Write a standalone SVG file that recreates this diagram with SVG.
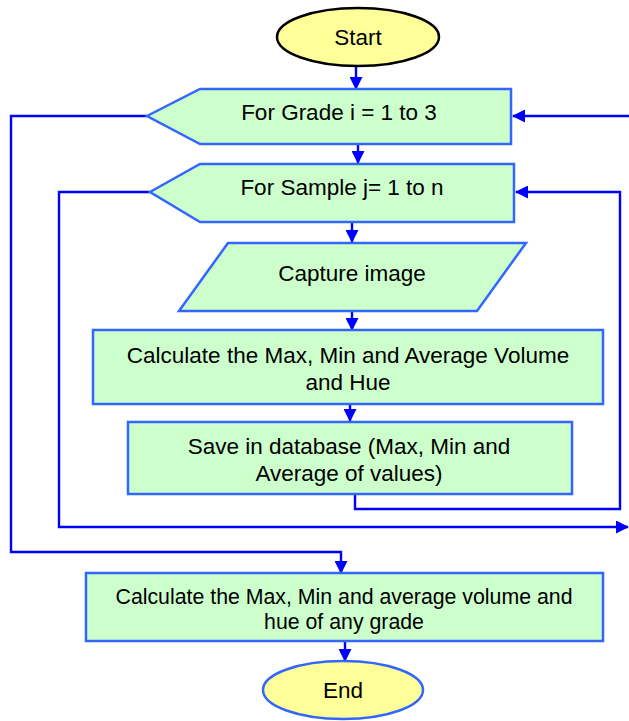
<svg xmlns="http://www.w3.org/2000/svg" width="629" height="721" viewBox="0 0 629 721">
  <defs>
    <marker id="arrow" markerWidth="13" markerHeight="13" refX="12" refY="6.5" orient="auto" markerUnits="userSpaceOnUse">
      <path d="M0,0 L13,6.5 L0,13 Z" fill="#0000ff"/>
    </marker>
  </defs>
  <style>
    .box { fill: #ccffcc; stroke: #3366ff; stroke-width: 2.5; stroke-linejoin: miter; }
    .term { fill: #ffff99; stroke-width: 2.5; }
    .conn { fill: none; stroke: #0000ff; stroke-width: 2.4; }
    .arr { marker-end: url(#arrow); }
    text { font-family: "Liberation Sans", Arial, sans-serif; font-size: 22.5px; fill: #000; text-anchor: middle; }
    .small { font-size: 21.3px; }
  </style>
  <rect width="629" height="721" fill="#ffffff"/>

  <!-- connectors -->
  <g id="connectors">
    <line class="conn arr" x1="356" y1="67" x2="356" y2="89"/>
    <line class="conn arr" x1="358" y1="145" x2="358" y2="163"/>
    <line class="conn arr" x1="352" y1="223" x2="352" y2="242"/>
    <line class="conn arr" x1="352" y1="312" x2="352" y2="330"/>
    <line class="conn arr" x1="350" y1="405" x2="350" y2="421"/>
    <line class="conn arr" x1="345" y1="642" x2="345" y2="661"/>
    <!-- outer loop: grade -->
    <polyline class="conn arr" points="147,116 11,116 11,552 341,552 341,573"/>
    <line class="conn arr" x1="629" y1="116" x2="513" y2="116"/>
    <!-- inner loop: sample -->
    <polyline class="conn arr" points="150,192 59,192 59,527 628,527"/>
    <polyline class="conn arr" points="355,495 355,509 620,509 620,192 516,192"/>
  </g>

  <g id="start">
    <ellipse class="term" cx="358" cy="37" rx="81" ry="29" stroke="#000000" stroke-width="2"/>
    <text x="358" y="45">Start</text>
  </g>

  <g id="for-grade">
    <polygon class="box" points="147,116 200,89 511,89 511,144 200,144"/>
    <text x="339" y="120">For Grade i = 1 to 3</text>
  </g>

  <g id="for-sample">
    <polygon class="box" points="150,192 200,164 514,164 514,222 200,222"/>
    <text x="342" y="195">For Sample j= 1 to n</text>
  </g>

  <g id="capture">
    <polygon class="box" points="228,243 526,243 477,311 179,311"/>
    <text x="352" y="281">Capture image</text>
  </g>

  <g id="calc-sample">
    <rect class="box" x="93" y="330" width="510" height="74"/>
    <text x="348" y="363">Calculate the Max, Min and Average Volume</text>
    <text x="348" y="390">and Hue</text>
  </g>

  <g id="save">
    <rect class="box" x="128" y="422" width="444" height="72"/>
    <text x="349" y="454">Save in database (Max, Min and</text>
    <text x="349" y="481">Average of values)</text>
  </g>

  <g id="calc-grade">
    <rect class="box" x="86" y="573" width="517" height="68"/>
    <text class="small" x="344" y="604">Calculate the Max, Min and average volume and</text>
    <text class="small" x="344" y="629">hue of any grade</text>
  </g>

  <g id="end">
    <ellipse class="term" cx="343" cy="690" rx="80" ry="29" stroke="#3366ff"/>
    <text x="343" y="698">End</text>
  </g>
</svg>
